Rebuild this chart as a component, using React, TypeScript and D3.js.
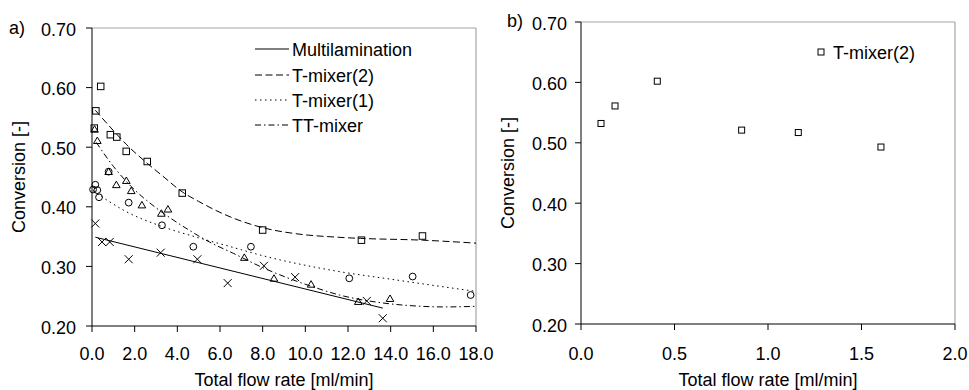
import React from "react";
import * as d3 from "d3";

// ---------- data ----------
const xTicksA = [0, 2, 4, 6, 8, 10, 12, 14, 16, 18];
const xTicksB = [0, 0.5, 1.0, 1.5, 2.0];
const yTicks = [0.2, 0.3, 0.4, 0.5, 0.6, 0.7];

const legendNames = ["Multilamination", "T-mixer(2)", "T-mixer(1)", "TT-mixer"];

// Multilamination (crosses)
const multiFlow = [0.155, 0.47, 0.83, 1.72, 3.22, 4.94, 6.36, 8.06, 9.52, 12.88, 13.63];
const multiConv = [0.372, 0.341, 0.341, 0.312, 0.323, 0.312, 0.272, 0.301, 0.282, 0.242, 0.213];
const multiFitFlow = [0.155, 13.63];
const multiFitConv = [0.349, 0.23];

// T-mixer(2) (squares)
const t2Flow = [0.107, 0.182, 0.408, 0.859, 1.162, 1.604, 2.59, 4.23, 8.0, 12.63, 15.49];
const t2Conv = [0.532, 0.561, 0.602, 0.521, 0.517, 0.493, 0.476, 0.423, 0.361, 0.344, 0.351];
const t2FitFlow = [0.155, 1.0, 1.6, 2.59, 3.3, 4.23, 5.0, 6.16, 8.0, 9.75, 11.5, 12.6, 15.5, 18.0];
const t2FitConv = [0.562, 0.528, 0.505, 0.473, 0.452, 0.425, 0.409, 0.388, 0.365, 0.354, 0.349, 0.347, 0.344, 0.339];

// T-mixer(1) (circles)
const t1Flow = [0.05, 0.155, 0.25, 0.33, 0.78, 1.72, 3.28, 4.75, 7.45, 12.06, 15.03, 17.75];
const t1Conv = [0.429, 0.437, 0.428, 0.416, 0.459, 0.407, 0.369, 0.333, 0.333, 0.28, 0.283, 0.252];
const t1FitFlow = [0.05, 0.8, 1.6, 3.2, 5.0, 6.5, 8.0, 11.0, 14.3, 18.0];
const t1FitConv = [0.427, 0.409, 0.392, 0.368, 0.348, 0.333, 0.318, 0.295, 0.277, 0.258];

// TT-mixer (triangles)
const ttFlow = [0.12, 0.25, 0.78, 1.14, 1.61, 1.84, 2.34, 3.25, 3.56, 7.14, 8.53, 10.27, 12.48, 13.97];
const ttConv = [0.53, 0.511, 0.459, 0.437, 0.444, 0.427, 0.403, 0.389, 0.396, 0.315, 0.28, 0.27, 0.241, 0.246];
const ttFitFlow = [0.2, 1.0, 1.84, 2.94, 3.72, 4.59, 5.5, 6.62, 8.0, 9.3, 10.5, 11.6, 13.35, 15.0, 16.5, 18.0];
const ttFitConv = [0.508, 0.468, 0.434, 0.4, 0.38, 0.36, 0.341, 0.322, 0.298, 0.279, 0.264, 0.252, 0.24, 0.234, 0.232, 0.233];

// Panel b: T-mixer(2)
const bFlow = [0.107, 0.182, 0.408, 0.859, 1.162, 1.604];
const bConv = [0.532, 0.561, 0.602, 0.521, 0.517, 0.493];

// ---------- styles ----------
const FONT = "'Liberation Sans', Arial, sans-serif";
const FS = 18;
const DASH = "7,3.5";
const DOT = "1.5,3.5";
const DASHDOT = "6,3,1.5,3";

type Pt = [number, number];
const zip = (a: number[], b: number[]): Pt[] => a.map((v, i) => [v, b[i]]);

function Square({ x, y, s }: { x: number; y: number; s: number }) {
  return <rect x={x - s / 2} y={y - s / 2} width={s} height={s} fill="none" stroke="#000" strokeWidth={1} />;
}
function Circle({ x, y }: { x: number; y: number }) {
  return <circle cx={x} cy={y} r={3.4} fill="none" stroke="#000" strokeWidth={1} />;
}
function Tri({ x, y }: { x: number; y: number }) {
  const h = 3.6;
  return (
    <path
      d={`M${x},${y - h} L${x + 3.8},${y + h * 0.8} L${x - 3.8},${y + h * 0.8} Z`}
      fill="none"
      stroke="#000"
      strokeWidth={1}
    />
  );
}
function Cross({ x, y }: { x: number; y: number }) {
  const r = 4;
  return (
    <path d={`M${x - r},${y - r} L${x + r},${y + r} M${x - r},${y + r} L${x + r},${y - r}`} stroke="#000" strokeWidth={1} />
  );
}

function Panel({
  x0, x1, y0, y1, xDomain, xTicks, xFmt, labelGap, children,
}: {
  x0: number; x1: number; y0: number; y1: number;
  xDomain: [number, number]; xTicks: number[]; xFmt: (v: number) => string; labelGap: number;
  children: (xs: d3.ScaleLinear<number, number>, ys: d3.ScaleLinear<number, number>) => React.ReactNode;
}) {
  const xs = d3.scaleLinear().domain(xDomain).range([x0, x1]);
  const ys = d3.scaleLinear().domain([0.2, 0.7]).range([y1, y0]);
  const midX = (x0 + x1) / 2;
  const midY = (y0 + y1) / 2;
  return (
    <g>
      {/* frame */}
      <line x1={x0} y1={y0} x2={x1} y2={y0} stroke="#a6a6a6" strokeWidth={1.2} />
      <line x1={x1} y1={y0} x2={x1} y2={y1} stroke="#a6a6a6" strokeWidth={1.2} />
      {children(xs, ys)}
      {/* axes */}
      <line x1={x0} y1={y0} x2={x0} y2={y1} stroke="#000" strokeWidth={1} />
      <line x1={x0} y1={y1} x2={x1} y2={y1} stroke="#000" strokeWidth={1} />
      {yTicks.map((t) => (
        <g key={"y" + t}>
          <line x1={x0 - 6} x2={x0} y1={ys(t)} y2={ys(t)} stroke="#000" />
          <text x={x0 - labelGap} y={ys(t) + 7.5} textAnchor="end" fontFamily={FONT} fontSize={FS} fill="#000">
            {t.toFixed(2)}
          </text>
        </g>
      ))}
      {xTicks.map((t) => (
        <g key={"x" + t}>
          <line x1={xs(t)} x2={xs(t)} y1={y1} y2={y1 + 6} stroke="#000" />
          <text x={xs(t)} y={360} textAnchor="middle" fontFamily={FONT} fontSize={FS} fill="#000">
            {xFmt(t)}
          </text>
        </g>
      ))}
      <text x={midX} y={386} textAnchor="middle" fontFamily={FONT} fontSize={FS} fill="#000">
        Total flow rate [ml/min]
      </text>
      <text
        transform={`translate(${x0 - 67},${midY}) rotate(-90)`}
        textAnchor="middle"
        fontFamily={FONT}
        fontSize={FS}
        fill="#000"
      >
        Conversion [-]
      </text>
    </g>
  );
}

export default function App() {
  const curve = (xs: d3.ScaleLinear<number, number>, ys: d3.ScaleLinear<number, number>) =>
    d3
      .line<Pt>()
      .x((d) => xs(d[0]))
      .y((d) => ys(d[1]))
      .curve(d3.curveMonotoneX);

  const legendY = [49, 75, 100, 125];
  const legendDash = [undefined, DASH, DOT, DASHDOT];

  return (
    <svg width={969} height={390} style={{ position: "absolute", left: 0, top: 0, background: "#fff" }}>
      <rect x={0} y={0} width={969} height={390} fill="#fff" />
      <text x={9} y={34} fontFamily={FONT} fontSize={FS} fill="#000">a)</text>
      <text x={507} y={27} fontFamily={FONT} fontSize={FS} fill="#000">b)</text>

      <Panel x0={92} x1={476} y0={28} y1={326} xDomain={[0, 18]} xTicks={xTicksA} xFmt={(v) => v.toFixed(1)} labelGap={16}>
        {(xs, ys) => {
          const ln = curve(xs, ys);
          return (
            <g>
              <path d={ln(zip(multiFitFlow, multiFitConv)) || ""} fill="none" stroke="#000" strokeWidth={1} />
              <path d={ln(zip(t2FitFlow, t2FitConv)) || ""} fill="none" stroke="#000" strokeWidth={1} strokeDasharray={DASH} />
              <path d={ln(zip(t1FitFlow, t1FitConv)) || ""} fill="none" stroke="#000" strokeWidth={1} strokeDasharray={DOT} />
              <path d={ln(zip(ttFitFlow, ttFitConv)) || ""} fill="none" stroke="#000" strokeWidth={1} strokeDasharray={DASHDOT} />
              {zip(t2Flow, t2Conv).map((d, i) => (
                <Square key={"s" + i} x={xs(d[0])} y={ys(d[1])} s={6.5} />
              ))}
              {zip(t1Flow, t1Conv).map((d, i) => (
                <Circle key={"c" + i} x={xs(d[0])} y={ys(d[1])} />
              ))}
              {zip(ttFlow, ttConv).map((d, i) => (
                <Tri key={"t" + i} x={xs(d[0])} y={ys(d[1])} />
              ))}
              {zip(multiFlow, multiConv).map((d, i) => (
                <Cross key={"x" + i} x={xs(d[0])} y={ys(d[1])} />
              ))}
              {legendNames.map((n, i) => (
                <g key={n}>
                  <line x1={255} x2={289} y1={legendY[i]} y2={legendY[i]} stroke="#000" strokeWidth={1} strokeDasharray={legendDash[i]} />
                  <text x={292} y={legendY[i] + 6.5} fontFamily={FONT} fontSize={FS} fill="#000">
                    {n}
                  </text>
                </g>
              ))}
            </g>
          );
        }}
      </Panel>

      <Panel x0={581} x1={955} y0={22} y1={324} xDomain={[0, 2]} xTicks={xTicksB} xFmt={(v) => v.toFixed(1)} labelGap={14}>
        {(xs, ys) => (
          <g>
            {zip(bFlow, bConv).map((d, i) => (
              <Square key={"b" + i} x={xs(d[0])} y={ys(d[1])} s={6} />
            ))}
            <Square x={821} y={52} s={6} />
            <text x={833} y={58.5} fontFamily={FONT} fontSize={FS} fill="#000">
              T-mixer(2)
            </text>
          </g>
        )}
      </Panel>
    </svg>
  );
}
